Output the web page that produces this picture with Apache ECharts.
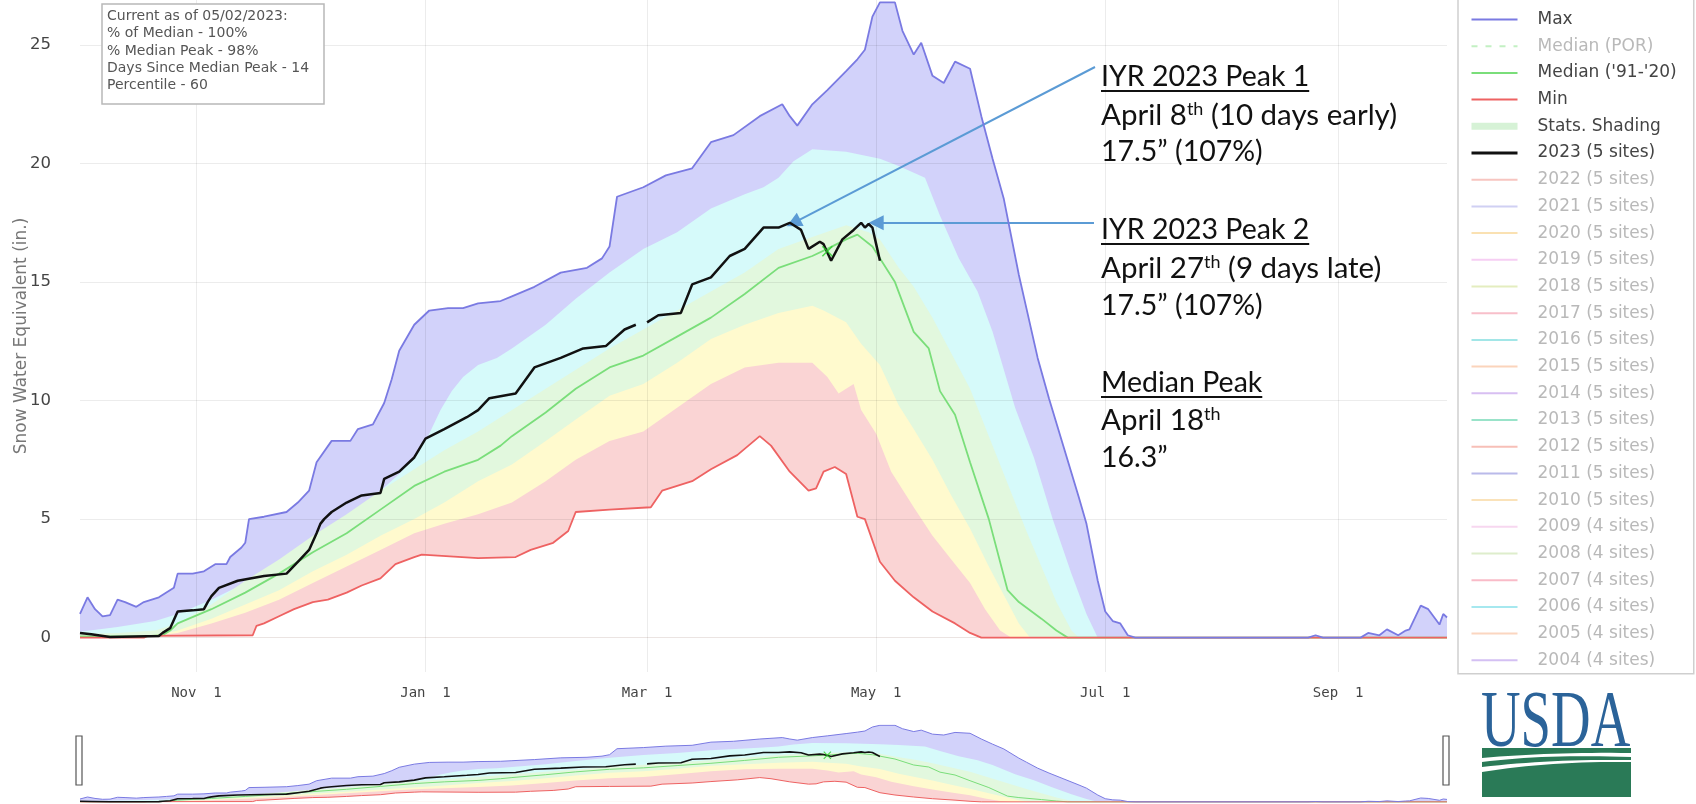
<!DOCTYPE html>
<html>
<head>
<meta charset="utf-8">
<title>Snow Water Equivalent</title>
<script src="https://cdn.jsdelivr.net/npm/echarts@6/dist/echarts.min.js"></script>
<style>
html, body { margin: 0; padding: 0; background: #fff; }
#chart { width: 1696px; height: 804px; }
</style>
</head>
<body>
<div id="chart"></div>
<script>
// ---- data (water year Oct 2022 - Sep 2023) ----
const tickDates = ['2022-11-01', '2023-01-01', '2023-03-01', '2023-05-01', '2023-07-01', '2023-09-01'];
const tickLabels = ['Nov  1', 'Jan  1', 'Mar  1', 'May  1', 'Jul  1', 'Sep  1'];

const maxSwe = [['2022-10-01',1.0],['2022-10-03',1.7],['2022-10-05',1.2],['2022-10-07',0.9],['2022-10-09',0.95],['2022-10-11',1.6],['2022-10-13',1.5],['2022-10-16',1.3],['2022-10-18',1.5],['2022-10-22',1.7],['2022-10-24',1.9],['2022-10-26',2.1],['2022-10-27',2.7],['2022-10-31',2.7],['2022-11-03',2.8],['2022-11-06',3.1],['2022-11-09',3.1],['2022-11-10',3.4],['2022-11-13',3.8],['2022-11-14',4.0],['2022-11-15',5.0],['2022-11-19',5.1],['2022-11-25',5.3],['2022-11-28',5.7],['2022-12-01',6.2],['2022-12-03',7.4],['2022-12-07',8.3],['2022-12-12',8.3],['2022-12-14',8.8],['2022-12-18',9.0],['2022-12-21',9.9],['2022-12-23',10.9],['2022-12-25',12.1],['2022-12-29',13.2],['2023-01-02',13.8],['2023-01-07',13.9],['2023-01-11',13.9],['2023-01-15',14.1],['2023-01-21',14.2],['2023-01-24',14.4],['2023-01-30',14.8],['2023-02-06',15.4],['2023-02-13',15.6],['2023-02-17',16.0],['2023-02-19',16.5],['2023-02-21',18.6],['2023-02-28',19.0],['2023-03-06',19.5],['2023-03-13',19.8],['2023-03-18',20.9],['2023-03-24',21.2],['2023-03-31',22.0],['2023-04-06',22.5],['2023-04-08',22.0],['2023-04-10',21.6],['2023-04-14',22.5],['2023-04-18',23.1],['2023-04-23',23.9],['2023-04-26',24.4],['2023-04-28',24.8],['2023-04-30',26.2],['2023-05-02',26.8],['2023-05-06',26.8],['2023-05-08',25.6],['2023-05-11',24.6],['2023-05-13',25.1],['2023-05-16',23.7],['2023-05-19',23.4],['2023-05-22',24.3],['2023-05-26',24.0],['2023-05-29',22.0],['2023-06-01',20.2],['2023-06-04',18.5],['2023-06-08',15.3],['2023-06-10',13.9],['2023-06-13',11.8],['2023-06-16',10.1],['2023-06-20',8.0],['2023-06-24',5.9],['2023-06-26',4.8],['2023-06-29',2.4],['2023-07-01',1.1],['2023-07-03',0.7],['2023-07-05',0.6],['2023-07-07',0.1],['2023-07-09',0],['2023-08-24',0],['2023-08-26',0.1],['2023-08-28',0],['2023-09-07',0],['2023-09-09',0.2],['2023-09-12',0.1],['2023-09-14',0.35],['2023-09-17',0.1],['2023-09-19',0.3],['2023-09-20',0.35],['2023-09-23',1.35],['2023-09-25',1.2],['2023-09-28',0.55],['2023-09-29',1.0],['2023-09-30',0.85]];

const pct90 = [['2022-10-01',0.25],['2022-10-11',0.45],['2022-10-21',0.7],['2022-10-27',1.0],['2022-11-05',1.6],['2022-11-14',2.3],['2022-11-23',3.1],['2022-12-02',4.0],['2022-12-11',5.1],['2022-12-20',6.2],['2022-12-25',6.9],['2022-12-29',7.6],['2023-01-02',8.6],['2023-01-05',9.6],['2023-01-08',10.4],['2023-01-11',11.0],['2023-01-15',11.5],['2023-01-20',11.8],['2023-01-24',12.2],['2023-02-02',13.2],['2023-02-10',14.3],['2023-02-19',15.4],['2023-02-28',16.4],['2023-03-09',17.1],['2023-03-18',18.1],['2023-03-27',18.7],['2023-04-01',19.0],['2023-04-05',19.4],['2023-04-09',20.1],['2023-04-14',20.6],['2023-04-23',20.5],['2023-05-02',20.2],['2023-05-07',19.9],['2023-05-14',19.4],['2023-05-18',17.8],['2023-05-23',16.0],['2023-05-28',14.6],['2023-06-01',12.9],['2023-06-07',9.7],['2023-06-12',7.6],['2023-06-17',5.0],['2023-06-22',2.7],['2023-06-26',1.0],['2023-06-29',0],['2023-09-30',0]];

const pct70 = [['2022-10-01',0.15],['2022-10-11',0.2],['2022-10-21',0.3],['2022-10-27',0.6],['2022-11-05',1.4],['2022-11-14',2.4],['2022-11-23',3.3],['2022-12-02',4.3],['2022-12-11',5.2],['2022-12-20',6.2],['2022-12-29',7.1],['2023-01-06',7.9],['2023-01-15',8.7],['2023-02-02',10.5],['2023-02-19',12.2],['2023-03-09',13.8],['2023-03-27',15.4],['2023-04-05',16.4],['2023-04-14',16.9],['2023-04-23',17.4],['2023-04-29',17.1],['2023-05-02',16.8],['2023-05-07',15.6],['2023-05-11',14.8],['2023-05-16',13.5],['2023-05-21',12.0],['2023-05-26',10.5],['2023-05-31',8.5],['2023-06-05',6.5],['2023-06-10',4.5],['2023-06-14',3.0],['2023-06-18',1.5],['2023-06-22',0.3],['2023-06-24',0],['2023-09-30',0]];

const pct30 = [['2022-10-01',0.05],['2022-10-18',0.05],['2022-10-23',0.15],['2022-10-27',0.3],['2022-11-05',0.8],['2022-11-14',1.4],['2022-11-23',2.0],['2022-12-02',2.8],['2022-12-11',3.5],['2022-12-20',4.3],['2022-12-29',5.0],['2023-01-06',5.7],['2023-01-15',6.6],['2023-01-24',7.3],['2023-02-02',8.3],['2023-02-10',9.2],['2023-02-19',10.2],['2023-02-28',10.7],['2023-03-09',11.6],['2023-03-18',12.6],['2023-03-27',13.2],['2023-04-05',13.7],['2023-04-14',14.0],['2023-04-17',13.8],['2023-04-23',13.3],['2023-04-27',12.4],['2023-05-02',11.5],['2023-05-07',9.8],['2023-05-11',8.8],['2023-05-16',7.5],['2023-05-21',6.0],['2023-05-26',4.6],['2023-05-31',3.0],['2023-06-04',1.8],['2023-06-08',0.6],['2023-06-11',0],['2023-09-30',0]];

const pct10 = [['2022-10-01',0],['2022-10-18',0.03],['2022-10-27',0.2],['2022-11-05',0.6],['2022-11-14',1.05],['2022-11-23',1.6],['2022-12-02',2.3],['2022-12-11',3.0],['2022-12-20',3.7],['2022-12-29',4.4],['2023-01-06',4.8],['2023-01-15',5.2],['2023-01-24',5.7],['2023-02-02',6.6],['2023-02-10',7.5],['2023-02-19',8.3],['2023-02-28',8.7],['2023-03-09',9.7],['2023-03-18',10.7],['2023-03-27',11.4],['2023-04-05',11.6],['2023-04-14',11.6],['2023-04-18',11.0],['2023-04-21',10.3],['2023-04-25',10.7],['2023-04-27',9.6],['2023-05-01',8.6],['2023-05-05',7.0],['2023-05-11',5.5],['2023-05-16',4.3],['2023-05-21',3.3],['2023-05-26',2.3],['2023-05-30',1.2],['2023-06-03',0.3],['2023-06-06',0],['2023-09-30',0]];

const minSwe = [['2022-10-01',0],['2022-10-18',0],['2022-10-19',0.07],['2022-11-16',0.1],['2022-11-17',0.5],['2022-11-19',0.6],['2022-11-23',0.9],['2022-11-27',1.2],['2022-12-02',1.5],['2022-12-06',1.6],['2022-12-11',1.9],['2022-12-15',2.2],['2022-12-20',2.5],['2022-12-24',3.1],['2022-12-29',3.4],['2022-12-31',3.5],['2023-01-15',3.35],['2023-01-25',3.4],['2023-01-29',3.7],['2023-02-04',4.0],['2023-02-08',4.5],['2023-02-10',5.3],['2023-02-19',5.4],['2023-03-02',5.5],['2023-03-05',6.2],['2023-03-13',6.6],['2023-03-18',7.1],['2023-03-25',7.7],['2023-03-31',8.5],['2023-04-03',8.1],['2023-04-08',7.0],['2023-04-13',6.2],['2023-04-15',6.3],['2023-04-17',7.0],['2023-04-20',7.2],['2023-04-23',6.9],['2023-04-26',5.1],['2023-04-28',5.0],['2023-05-02',3.2],['2023-05-06',2.4],['2023-05-11',1.7],['2023-05-16',1.1],['2023-05-22',0.6],['2023-05-26',0.2],['2023-05-29',0],['2023-09-30',0]];

const medianSwe = [['2022-10-01',0.05],['2022-10-18',0.05],['2022-10-23',0.1],['2022-10-25',0.3],['2022-10-27',0.6],['2022-11-05',1.2],['2022-11-14',1.9],['2022-11-23',2.7],['2022-12-02',3.6],['2022-12-11',4.4],['2022-12-20',5.4],['2022-12-29',6.4],['2023-01-06',7.0],['2023-01-15',7.5],['2023-01-21',8.1],['2023-01-24',8.5],['2023-02-02',9.5],['2023-02-10',10.5],['2023-02-19',11.4],['2023-02-28',11.9],['2023-03-09',12.7],['2023-03-18',13.5],['2023-03-27',14.5],['2023-04-05',15.6],['2023-04-14',16.1],['2023-04-18',16.4],['2023-04-23',16.8],['2023-04-26',17.0],['2023-04-30',16.5],['2023-05-06',15.0],['2023-05-11',12.9],['2023-05-15',12.2],['2023-05-18',10.4],['2023-05-22',9.4],['2023-05-26',7.4],['2023-05-31',5.0],['2023-06-05',2.0],['2023-06-08',1.5],['2023-06-14',0.8],['2023-06-18',0.3],['2023-06-21',0],['2023-09-30',0]];

const wy2023 = [['2022-10-01',0.2],['2022-10-04',0.14],['2022-10-09',0.03],['2022-10-22',0.07],['2022-10-23',0.2],['2022-10-25',0.4],['2022-10-27',1.1],['2022-10-31',1.15],['2022-11-03',1.2],['2022-11-04',1.5],['2022-11-05',1.75],['2022-11-07',2.1],['2022-11-12',2.4],['2022-11-19',2.6],['2022-11-25',2.7],['2022-11-28',3.2],['2022-12-01',3.7],['2022-12-03',4.4],['2022-12-04',4.8],['2022-12-05',5.0],['2022-12-07',5.3],['2022-12-11',5.7],['2022-12-15',6.0],['2022-12-20',6.1],['2022-12-21',6.7],['2022-12-25',7.0],['2022-12-29',7.6],['2023-01-01',8.4],['2023-01-06',8.8],['2023-01-12',9.3],['2023-01-15',9.6],['2023-01-18',10.1],['2023-01-25',10.3],['2023-01-30',11.4],['2023-02-06',11.8],['2023-02-12',12.2],['2023-02-18',12.3],['2023-02-23',13.0],['2023-02-26',13.2],['2023-02-27',null],['2023-03-01',13.3],['2023-03-04',13.6],['2023-03-10',13.7],['2023-03-13',14.9],['2023-03-18',15.2],['2023-03-23',16.1],['2023-03-27',16.4],['2023-04-01',17.3],['2023-04-05',17.3],['2023-04-08',17.5],['2023-04-11',17.2],['2023-04-13',16.4],['2023-04-16',16.7],['2023-04-17',16.6],['2023-04-19',15.9],['2023-04-22',16.8],['2023-04-25',17.2],['2023-04-27',17.5],['2023-04-28',17.3],['2023-04-29',17.45],['2023-04-30',17.3],['2023-05-01',16.6],['2023-05-02',15.9]];

const medianPeak = [['2023-04-18', 16.3]];
// arrow tips for the two 2023 peak call-outs
const peakTips = [['2023-04-09', 17.5], ['2023-05-01', 17.5]];

const pastYears = ['2022 (5 sites)','2021 (5 sites)','2020 (5 sites)','2019 (5 sites)','2018 (5 sites)','2017 (5 sites)','2016 (5 sites)','2015 (5 sites)','2014 (5 sites)','2013 (5 sites)','2012 (5 sites)','2011 (5 sites)','2010 (5 sites)','2009 (4 sites)','2008 (4 sites)','2007 (4 sites)','2006 (4 sites)','2005 (4 sites)','2004 (4 sites)'];
const pastYearColors = ['#f1968c','#a9a9ea','#f6c872','#efa6ea','#cddf8a','#f28a9e','#55d2d4','#f8b083','#b88ae8','#45cc9c','#f08a7c','#8282d8','#f5ca80','#f1b6e3','#c3dea2','#f4849a','#5cd5e2','#f8b48c','#b18ce9'];

const infoLines = ['Current as of 05/02/2023:', '% of Median - 100%', '% Median Peak - 98%', 'Days Since Median Peak - 14', 'Percentile - 60'];

// ---- styling ----
const ts = s => new Date(s + 'T00:00:00').getTime();
const pts = arr => arr.map(([d, v]) => [ts(d), v]);
const tickTs = tickDates.map(ts);

const gridColor = 'rgba(0,0,0,0.075)';
const colMax = 'rgb(122,122,226)';
const colMin = 'rgb(238,98,98)';
const colMed = 'rgb(122,222,122)';
const arrowColor = '#5b9bd5';
const fills = [
  [maxSwe, 'rgb(210,210,250)'],
  [pct90, 'rgb(214,250,250)'],
  [pct70, 'rgb(226,248,222)'],
  [pct30, 'rgb(255,250,206)'],
  [pct10, 'rgb(250,212,212)'],
  [minSwe, '#ffffff']
];
const xMark = 'path://M1,0L5,4L9,0L10,1L6,5L10,9L9,10L5,6L1,10L0,9L4,5L0,1Z';

function buildSeries(ai) {
  const mini = ai === 1;
  const sfx = mini ? ' mini' : '';
  const out = [];
  fills.forEach(([arr, color], i) => {
    out.push({
      name: 'fill' + i + sfx, type: 'line', xAxisIndex: ai, yAxisIndex: ai,
      data: pts(arr), symbol: 'none', silent: true, z: 1,
      lineStyle: { width: 0, opacity: 0 },
      areaStyle: { color: color, opacity: 1 }
    });
  });
  const line = (name, arr, color, width, z) => ({
    name: name + sfx, type: 'line', xAxisIndex: ai, yAxisIndex: ai,
    data: pts(arr), symbol: 'none', silent: true, z: z, connectNulls: false,
    lineStyle: { color: color, width: width }, itemStyle: { color: color }
  });
  out.push(line("Median ('91-'20)", medianSwe, colMed, mini ? 1 : 1.8, 5));
  out.push(line('Min', minSwe, colMin, mini ? 1 : 1.8, 5));
  out.push(line('Max', maxSwe, colMax, mini ? 1 : 1.8, 5));
  const cur = line('2023 (5 sites)', wy2023, '#111', mini ? 1.6 : 2.5, 6);
  if (!mini) {
    cur.markLine = {
      silent: true, animation: false,
      symbol: ['none', 'triangle'], symbolSize: 15,
      lineStyle: { color: arrowColor, width: 2, type: 'solid' },
      label: { show: false },
      data: [
        [{ x: 1095, y: 67 }, { coord: [ts(peakTips[0][0]), peakTips[0][1]] }],
        [{ coord: [ts('2023-06-28'), peakTips[1][1]] }, { coord: [ts(peakTips[1][0]), peakTips[1][1]] }]
      ]
    };
  }
  out.push(cur);
  out.push({
    name: 'Median Peak' + sfx, type: 'scatter', xAxisIndex: ai, yAxisIndex: ai,
    data: pts(medianPeak), symbol: xMark, symbolSize: mini ? 8 : 11, silent: true, z: 7,
    itemStyle: { color: 'rgb(40,205,40)' }
  });
  return out;
}

const series = buildSeries(0).concat(buildSeries(1));
// legend-only traces
series.push({ name: 'Median (POR)', type: 'line', data: [], symbol: 'none', lineStyle: { color: colMed, width: 2, type: [6, 8] } });
series.push({ name: 'Stats. Shading', type: 'line', data: [], symbol: 'none', lineStyle: { color: 'rgb(214,242,214)', width: 7 } });
pastYears.forEach((n, i) => series.push({ name: n, type: 'line', data: [], symbol: 'none', lineStyle: { color: pastYearColors[i], width: 2 } }));

const faded = { textStyle: { color: '#b9b9b9' }, lineStyle: { opacity: 0.55 } };
const legendData = [
  { name: 'Max' },
  { name: 'Median (POR)', textStyle: { color: '#b9b9b9' }, lineStyle: { opacity: 0.45, type: [6, 8] } },
  { name: "Median ('91-'20)" },
  { name: 'Min' },
  { name: 'Stats. Shading', lineStyle: { width: 7 } },
  { name: '2023 (5 sites)', lineStyle: { width: 3 } }
].concat(pastYears.map(n => Object.assign({ name: n }, faded)));

// ---- annotations ----
const noteFont = 'Lato';
const notes = [
  { text: 'IYR 2023 Peak 1', y: 77, size: 28.5, underline: true },
  { text: 'April 8{sup|th} (10 days early)', y: 115, size: 29.5 },
  { text: '17.5\u201D (107%)', y: 152, size: 28.5 },
  { text: 'IYR 2023 Peak 2', y: 230, size: 28.5, underline: true },
  { text: 'April 27{sup|th} (9 days late)', y: 268, size: 29.5 },
  { text: '17.5\u201D (107%)', y: 306, size: 28.5 },
  { text: 'Median Peak', y: 383, size: 28.5, underline: true },
  { text: 'April 18{sup|th}', y: 420, size: 29.5 },
  { text: '16.3\u201D', y: 458, size: 28.5 }
];
const measure = document.createElement('canvas').getContext('2d');

const graphics = [];
notes.forEach(n => {
  graphics.push({
    type: 'text', x: 1101, y: n.y, z: 60,
    style: {
      text: n.text, fill: '#111', fontFamily: noteFont, fontSize: n.size,
      verticalAlign: 'middle',
      rich: { sup: { fontFamily: noteFont, fontSize: 18, fill: '#111', verticalAlign: 'top' } }
    }
  });
  if (n.underline) {
    measure.font = n.size + 'px ' + noteFont;
    const w = measure.measureText(n.text).width;
    graphics.push({ type: 'line', z: 60, shape: { x1: 1101, y1: n.y + 14, x2: 1101 + w, y2: n.y + 14 }, style: { stroke: '#111', lineWidth: 2 } });
  }
});

// status box
graphics.push({ type: 'rect', z: 60, shape: { x: 102, y: 4, width: 222, height: 100 }, style: { fill: '#fff', stroke: '#b8b8b8', lineWidth: 1.5 } });
graphics.push({ type: 'text', z: 61, x: 107, y: 7.5, style: { text: infoLines.join('\n'), fontFamily: 'DejaVu Sans', fontSize: 14, lineHeight: 17.4, fill: '#555', verticalAlign: 'top' } });

// range slider handles
[76, 1443].forEach(x => graphics.push({ type: 'rect', z: 60, shape: { x: x, y: 736, width: 6, height: 49 }, style: { fill: '#fff', stroke: '#555', lineWidth: 1.2 } }));

// USDA logo
function quad(p0, c, p1) {
  const out = [];
  for (let i = 0; i <= 16; i++) {
    const t = i / 16, u = 1 - t;
    out.push([u * u * p0[0] + 2 * u * t * c[0] + t * t * p1[0], u * u * p0[1] + 2 * u * t * c[1] + t * t * p1[1]]);
  }
  return out;
}
const swooshes = [
  [[1482, 748], [1631, 748]].concat(quad([1631, 753], [1550, 752], [1482, 758])),
  quad([1482, 762], [1545, 754], [1631, 757]).concat(quad([1631, 760], [1550, 759], [1482, 767])),
  quad([1482, 772], [1550, 761], [1631, 762]).concat([[1631, 797], [1482, 797]])
];
graphics.push({ type: 'text', z: 60, x: 1481, y: 685, scaleX: 0.685, style: { text: 'USDA', fontFamily: 'Liberation Serif', fontSize: 80, fill: '#2b6399', verticalAlign: 'top' } });
swooshes.forEach(p => graphics.push({ type: 'polygon', z: 60, shape: { points: p }, style: { fill: '#2a7a57' } }));

const chart = echarts.init(document.getElementById('chart'));
chart.setOption({
  animation: false,
  backgroundColor: '#fff',
  grid: [
    { left: 80, right: 249, top: 0, height: 672, containLabel: false, outerBoundsMode: 'none' },
    { left: 80, right: 249, top: 725, height: 81, containLabel: false, outerBoundsMode: 'none' }
  ],
  xAxis: [
    {
      type: 'value', gridIndex: 0, min: ts('2022-10-01'), max: ts('2023-09-30'), z: 3,
      axisLine: { show: false },
      axisTick: { show: false, customValues: tickTs },
      axisLabel: {
        customValues: tickTs, margin: 14, fontFamily: 'DejaVu Sans Mono', fontSize: 14, color: '#444',
        formatter: v => { const i = tickTs.findIndex(t => Math.abs(t - v) < 864e5); return i >= 0 ? tickLabels[i] : ''; }
      },
      splitLine: { show: true, lineStyle: { color: gridColor, width: 1 } }
    },
    { type: 'value', gridIndex: 1, min: ts('2022-10-01'), max: ts('2023-09-30'), show: false }
  ],
  yAxis: [
    {
      type: 'value', gridIndex: 0, min: -1.45, max: 26.9, splitNumber: 5, z: 3,
      name: 'Snow Water Equivalent (in.)', nameLocation: 'middle', nameGap: 50, nameMoveOverlap: false,
      nameTextStyle: { fontFamily: 'DejaVu Sans', fontSize: 17, color: '#777' },
      axisLine: { show: false }, axisTick: { show: false },
      axisLabel: {
        margin: 29, fontFamily: 'DejaVu Sans', fontSize: 16.5, color: '#444',
        showMinLabel: false, showMaxLabel: false,
        formatter: v => (v >= 0 && Math.abs(v % 5) < 1e-6 ? String(Math.round(v)) : '')
      },
      splitLine: { show: true, showMinLine: false, showMaxLine: false, lineStyle: { color: gridColor, width: 1 } }
    },
    { type: 'value', gridIndex: 1, min: -1.45, max: 26.9, show: false }
  ],
  legend: {
    orient: 'vertical', left: 1458, top: -20, padding: [31, 17, 5, 10],
    itemWidth: 46, itemHeight: 14, itemGap: 9.7,
    backgroundColor: '#fff', borderColor: '#cfcfcf', borderWidth: 1.5,
    selectedMode: false,
    itemStyle: { opacity: 0 },
    textStyle: { fontFamily: 'DejaVu Sans', fontSize: 17, color: '#444', padding: [0, 0, 0, 15] },
    data: legendData
  },
  graphic: graphics,
  series: series
});
</script>
</body>
</html>
